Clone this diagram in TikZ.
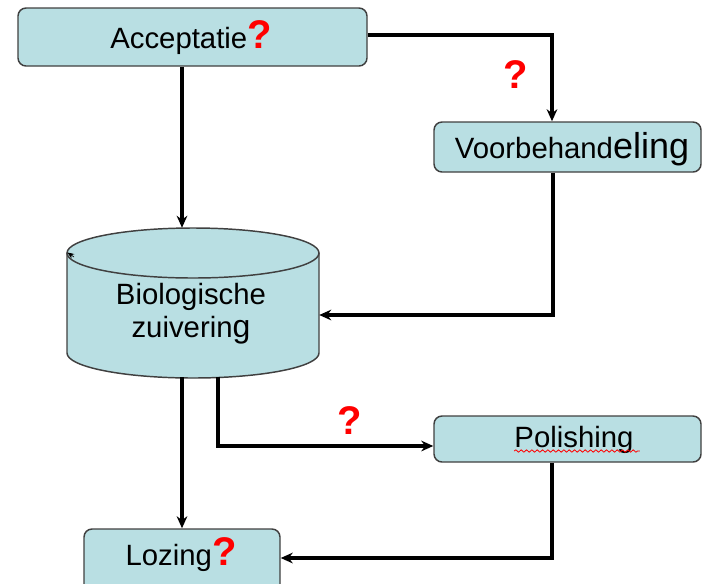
\documentclass[tikz,border=0pt]{standalone}
\usepackage{fontspec}
\setmainfont{Liberation Sans}
\usetikzlibrary{arrows.meta,calc,decorations.pathmorphing}
\definecolor{boxfill}{HTML}{B9DFE3}
\definecolor{boxline}{HTML}{404040}
\definecolor{qred}{HTML}{FF0000}
\begin{document}
\begin{tikzpicture}[x=0.75pt,y=-0.75pt,
  box/.style={draw=boxline, line width=1.1pt, fill=boxfill, rounded corners=6pt, inner sep=0pt},
  flow/.style={line width=2.3pt, -{Stealth[length=9pt,width=8pt]}},
  lbl/.style={anchor=base, inner sep=0pt, font=\fontsize{22}{24}\selectfont},
  qm/.style={text=qred, font=\fontsize{30}{30}\bfseries\selectfont}]
\useasboundingbox (0,0) rectangle (704,583);
% boxes
\node[box, minimum width=261.75pt, minimum height=43.5pt] (acc) at (192.5,37) {};
\node[box, minimum width=200.25pt, minimum height=37.5pt] (voor) at (567.5,147) {};
\node[box, minimum width=200.25pt, minimum height=34.5pt] (pol) at (567.5,439) {};
\node[box, minimum width=147pt, minimum height=48pt] (loz) at (182,561) {};
% cylinder
\path[fill=boxfill] (67,253) -- (67,353) arc[start angle=180, end angle=0, x radius=126, y radius=25] -- (319,253) -- cycle;
\draw[draw=boxline, line width=1.1pt] (67,253) -- (67,353) arc[start angle=180, end angle=0, x radius=126, y radius=25] -- (319,253);
\draw[draw=boxline, fill=boxfill, line width=1.1pt] (193,253) ellipse[x radius=126, y radius=25];
\node[minimum width=189pt, minimum height=112.5pt, inner sep=0pt] (bio) at (193,303) {};
\coordinate (tipend) at (67.5,252.5);
\draw[line width=0.5pt, -{Stealth[length=5pt,width=4pt]}] (74,257) -- (tipend);
% texts
\node[lbl] (acctext) at (191,48) {Acceptatie{\fontsize{30}{30}\bfseries\selectfont\color{qred}?}};
\node[lbl] (voortext) at (572,158) {Voorbehand{\fontsize{27}{27}\selectfont eling}};
\node[lbl] (biotext1) at (191,304) {Biologische};
\node[lbl] (biotext2) at (191,337) {zuiverin{\fontsize{24}{24}\selectfont g}};
\node[lbl] (poltext) at (574,447) {Polishing};
\node[lbl] (loztext) at (181,565) {Lozing{\fontsize{30}{30}\bfseries\selectfont\color{qred}?}};
\draw[qred, line width=0.6pt, decorate, decoration={snake, amplitude=0.9, segment length=4}] ($(poltext.base west)+(0,4)$) -- ($(poltext.base east)+(6,4)$);
\node[qm] (q1) at (516,75) {?};
\node[qm] (q2) at (350,421) {?};
% connectors
\draw[flow] (acc.south -| loz.north) -- (bio.north -| loz.north);
\draw[flow] ($(acc.east)+(0,-2)$) -| ($(voor.north)+(-15.5,0)$);
\draw[flow] ($(voor.south)+(-14.5,0)$) |- ($(bio.east)+(0,12)$);
\draw[flow] ($(bio.south -| loz.north)+(0,-1)$) -- (loz.north);
\draw[flow] ($(bio.south)+(25,-1)$) |- ($(pol.west)+(0,7)$);
\draw[flow] ($(pol.south)+(-15.5,0)$) |- ($(loz.east)+(0,-3)$);
\end{tikzpicture}
\end{document}
